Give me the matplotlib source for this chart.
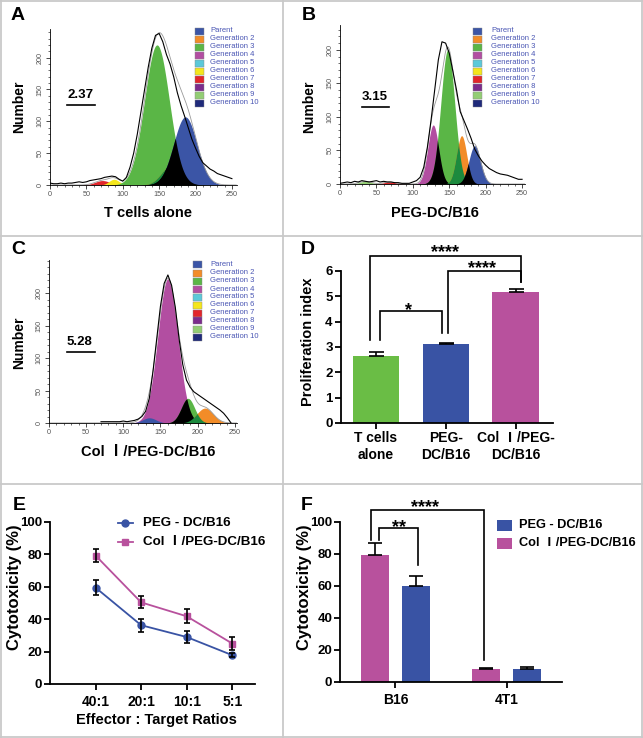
import numpy as np
import matplotlib
matplotlib.use('Agg')
import matplotlib.pyplot as plt
from matplotlib.patches import Rectangle
from matplotlib.lines import Line2D
import matplotlib.transforms as mtrans

# ---------------- data ----------------
gen_names = ['Parent', 'Generation 2', 'Generation 3', 'Generation 4', 'Generation 5',
             'Generation 6', 'Generation 7', 'Generation 8', 'Generation 9', 'Generation 10']
gen_colors = ['#3b55a6', '#f28c28', '#5ab646', '#b24ea1', '#5cc9d9',
              '#f4e61c', '#e2262b', '#7b2c8c', '#93cd74', '#1f2a7a']

hist_x = list(range(0, 255, 5))

# A: T cells alone (raw histogram read at 5-channel steps)
A_counts = [3, 2, 2, 3, 2, 3, 3, 4, 5, 4, 5, 7, 8, 9, 10, 12, 13, 14, 13, 9, 6, 12, 28, 50, 80,
            115, 150, 185, 215, 235, 238, 225, 205, 190, 170, 145, 125, 108, 90, 72, 58, 45,
            35, 30, 25, 22, 18, 16, 14, 12, 10]
A_index = '2.37'
A_title = 'T cells alone'
A_peak_gen = ['Generation 7', 'Generation 6', 'Generation 3', 'Generation 2', 'Parent']
A_peak_center = [72, 88, 147, 166, 186]
A_peak_height = [7, 9, 220, 30, 107]
A_peak_sigma = [10, 7, 17, 13, 16]

# B: PEG-DC/B16
B_counts = [1, 2, 3, 2, 4, 3, 5, 4, 3, 4, 5, 3, 4, 3, 3, 2, 2, 1, 1, 1, 3, 5, 10, 25, 55,
            95, 140, 185, 212, 210, 195, 168, 140, 108, 95, 82, 68, 52, 42, 34, 28, 23,
            20, 17, 15, 14, 13, 11, 9, 7, 7]
B_index = '3.15'
B_title = 'PEG-DC/B16'
B_peak_gen = ['Generation 9', 'Generation 7', 'Generation 4', 'Generation 3', 'Generation 2', 'Parent']
B_peak_center = [35, 68, 128, 148, 167, 185]
B_peak_height = [4, 3, 88, 200, 72, 57]
B_peak_sigma = [8, 8, 7.5, 9.5, 7, 8]

# C: Col I/PEG-DC/B16
nan = float('nan')
C_counts = [nan] * 14 + [2, 2, 2, 2, 2, 2, 3, 2, 3, 4, 6, 10, 18, 38, 80, 130, 180, 215, 228,
                         212, 178, 130, 90, 66, 55, 48, 44, 40, 36, 32, 28, 24, 20, 15, 8, 0, nan]
C_index = '5.28'
C_title = 'Col Ⅰ/PEG-DC/B16'
C_peak_gen = ['Generation 4', 'Generation 3', 'Generation 2', 'Parent']
C_peak_center = [160, 187, 210, 135]
C_peak_height = [222, 38, 23, 8]
C_peak_sigma = [13.5, 9, 11, 9]

# D: proliferation index
D_groups = ['T cells\nalone', 'PEG-\nDC/B16', 'Col Ⅰ/PEG-\nDC/B16']
D_values = [2.65, 3.12, 5.18]
D_errors = [0.16, 0.04, 0.12]

# E: cytotoxicity vs E:T ratio
E_ratios = ['40:1', '20:1', '10:1', '5:1']
E_peg = [59.5, 36.3, 29.0, 17.8]
E_peg_err = [4.4, 3.9, 3.8, 1.2]
E_col = [79.3, 50.4, 41.8, 25.0]
E_col_err = [4.2, 3.7, 4.3, 4.1]

# F: cytotoxicity by target cell
F_cells = ['B16', '4T1']
F_col = [79.5, 7.9]
F_col_err = [7.2, 1.0]
F_peg = [59.8, 8.1]
F_peg_err = [6.6, 1.4]

series_names = ['PEG - DC/B16', 'Col Ⅰ/PEG-DC/B16']

# ---------------- styling ----------------
MAIN = ['Liberation Sans', 'Noto Sans CJK SC', 'DejaVu Sans']
plt.rcParams['font.family'] = MAIN

BLUE = '#3953a4'
MAG = '#b8519d'
GREEN = '#6abd45'
DKGREEN = '#1c8a3e'

W, H = 643, 738
fig = plt.figure(figsize=(W / 100, H / 100), dpi=100)


def rect(l, t, r, b):
    return [l / W, 1 - b / H, (r - l) / W, (b - t) / H]


def fx(x):
    return x / W


def fy(y):
    return 1 - y / H


gcol = dict(zip(gen_names, gen_colors))

# separators / border
for (x1, y1, x2, y2) in [(283, 0, 283, 738), (0, 236, 643, 236), (0, 484, 643, 484),
                         (0, 0.8, 643, 0.8), (0, 737.2, 643, 737.2), (0.8, 0, 0.8, 738), (642.2, 0, 642.2, 738)]:
    fig.add_artist(Line2D([fx(x1), fx(x2)], [fy(y1), fy(y2)], transform=fig.transFigure,
                          color='#c9c9c9', lw=1.3))


def draw_hist(r, xmax, ymax, counts, pgen, pc, ph, ps, overlaps):
    ax = fig.add_axes(r)
    xs = np.linspace(0, 256, 1025)
    curves = {}
    total = np.zeros_like(xs)
    for g, c, h, s in zip(pgen, pc, ph, ps):
        y = h * np.exp(-0.5 * ((xs - c) / s) ** 2)
        curves[g] = y
        total += y
        ax.fill_between(xs, 0, y, color=gcol[g], lw=0)
    for a, b, col in overlaps:
        ax.fill_between(xs, 0, np.minimum(curves[a], curves[b]), color=col, lw=0)
    ax.plot(xs, total, color='#9a9a9a', lw=0.6)
    ax.plot(hist_x, counts, color='k', lw=0.8)
    ax.set_xlim(0, xmax)
    ax.set_ylim(0, ymax)
    for s in ['top', 'right']:
        ax.spines[s].set_visible(False)
    for s in ['left', 'bottom']:
        ax.spines[s].set_linewidth(0.6)
    ax.set_xticks([0, 50, 100, 150, 200, 250])
    ax.set_xticks(np.arange(0, 251, 10), minor=True)
    ax.set_yticks([0, 50, 100, 150, 200])
    ax.set_yticks(np.arange(0, ymax, 10), minor=True)
    ax.tick_params(which='major', length=3, width=0.5, labelsize=5.2, labelcolor='#555', pad=1.5)
    ax.tick_params(which='minor', length=1.5, width=0.4)
    for lab in ax.get_yticklabels():
        lab.set_rotation(90)
        lab.set_va('center')
    return ax


def hist_legend(sx, tx, y0):
    for i, (n, c) in enumerate(zip(gen_names, gen_colors)):
        y = y0 + i * 8
        fig.add_artist(Rectangle((fx(sx), fy(y + 3.5)), 9 / W, 7 / H, transform=fig.transFigure,
                                 facecolor=c, edgecolor='#8a8a8a', lw=0.3))
        fig.text(fx(tx), fy(y), n, fontsize=5.5, color='#4a56b4', va='center', ha='left')


def panel_letter(x, y, s):
    fig.text(fx(x), fy(y), s, fontsize=14, fontweight='bold', ha='center', va='center')


def index_label(x, y, s, ux1, ux2, uy):
    fig.text(fx(x), fy(y), s, fontsize=9.5, fontweight='bold', ha='center', va='center')
    fig.add_artist(Line2D([fx(ux1), fx(ux2)], [fy(uy), fy(uy)], transform=fig.transFigure, color='k', lw=1.2))


# ---- A ----
draw_hist(rect(50, 29, 237, 185), 257, 245, A_counts, A_peak_gen, A_peak_center, A_peak_height, A_peak_sigma,
          [('Generation 2', 'Generation 3', DKGREEN), ('Generation 3', 'Parent', 'k'), ('Generation 2', 'Parent', 'k')])
hist_legend(195, 210, 31)
panel_letter(18, 15, 'A')
fig.text(fx(19), fy(107), 'Number', rotation=90, fontsize=10, fontweight='bold', ha='center', va='center')
fig.text(fx(148), fy(213), A_title, fontsize=10.5, fontweight='bold', ha='center', va='center')
index_label(81, 95, A_index, 67, 95, 105)

# ---- B ----
draw_hist(rect(340, 25, 525, 184), 254, 237, B_counts, B_peak_gen, B_peak_center, B_peak_height, B_peak_sigma,
          [('Generation 4', 'Generation 3', 'k'), ('Generation 3', 'Generation 2', DKGREEN), ('Generation 2', 'Parent', 'k')])
hist_legend(473, 491, 31)
panel_letter(309, 15, 'B')
fig.text(fx(309), fy(107), 'Number', rotation=90, fontsize=10, fontweight='bold', ha='center', va='center')
fig.text(fx(435), fy(213), B_title, fontsize=10.5, fontweight='bold', ha='center', va='center')
index_label(375, 97, B_index, 362, 389, 107)

# ---- C ----
draw_hist(rect(49, 260, 237, 423), 253, 251, C_counts, C_peak_gen, C_peak_center, C_peak_height, C_peak_sigma,
          [('Generation 4', 'Generation 3', 'k'), ('Generation 3', 'Generation 2', DKGREEN)])
hist_legend(193, 210, 265)
panel_letter(18, 250, 'C')
fig.text(fx(19), fy(343), 'Number', rotation=90, fontsize=10, fontweight='bold', ha='center', va='center')
fig.text(fx(148), fy(452), C_title, fontsize=10.5, fontweight='bold', ha='center', va='center')
index_label(79, 342, C_index, 67, 95, 352)

# ---- D ----
axD = fig.add_axes(rect(341, 271, 553, 423))
xD = np.arange(len(D_values))
axD.bar(xD, D_values, width=0.67, color=[GREEN, BLUE, MAG], edgecolor='none')
axD.errorbar(xD, D_values, yerr=[np.zeros(len(D_values)), D_errors], fmt='none', ecolor='k',
             elinewidth=1.2, capsize=5.4, capthick=1.2)
axD.set_xlim(-0.5, 2.53)
axD.set_ylim(0, 6)
axD.set_yticks(range(0, 7))
axD.set_xticks(xD)
axD.set_xticklabels(D_groups, fontsize=10, fontweight='bold', linespacing=1.2)
for lab in axD.get_yticklabels():
    lab.set_fontweight('bold')
    lab.set_fontsize(9.5)
for s in ['top', 'right']:
    axD.spines[s].set_visible(False)
for s in ['left', 'bottom']:
    axD.spines[s].set_linewidth(1.3)
axD.tick_params(length=4, width=1.3, pad=2)
fig.text(fx(308), fy(342), 'Proliferation index', rotation=90, fontsize=10.5, fontweight='bold',
         ha='center', va='center')
panel_letter(308, 250, 'D')


def bracket(ax, x1, x2, y, y1, y2, lw=1.2):
    ax.plot([x1, x1, x2, x2], [y1, y, y, y2], color='k', lw=lw, clip_on=False, solid_joinstyle='miter')


def stars(ax, x, y, s, size=13):
    tr = mtrans.offset_copy(ax.transData, fig=fig, y=-7.6, units='points')
    ax.text(x, y, s, transform=tr, ha='center', va='baseline', fontsize=size, fontweight='bold',
            clip_on=False)


bracket(axD, -0.09, 2.07, 6.6, 3.28, 5.58)
bracket(axD, 1.03, 2.07, 6.0, 3.55, 5.58)
bracket(axD, 0.06, 0.94, 4.43, 3.28, 3.55)
stars(axD, 0.99, 6.95, '****')
stars(axD, 1.51, 6.32, '****')
stars(axD, 0.47, 4.66, '*')

# ---- E ----
TICK_E = 9.5
XT_E = 10
axE = fig.add_axes(rect(50, 522, 255, 684))
xE = np.arange(len(E_ratios))
axE.plot(xE, E_peg, color=BLUE, marker='o', ms=5, lw=1.3, zorder=2)
axE.plot(xE, E_col, color=MAG, marker='s', ms=5, lw=1.3, zorder=2)
axE.errorbar(xE, E_peg, yerr=E_peg_err, fmt='none', ecolor='k', elinewidth=1.2, capsize=2.5, capthick=1.2, zorder=3)
axE.errorbar(xE, E_col, yerr=E_col_err, fmt='none', ecolor='k', elinewidth=1.2, capsize=2.5, capthick=1.2, zorder=3)
axE.set_xlim(-1, 3.5)
axE.set_ylim(0, 100)
axE.set_yticks([0, 20, 40, 60, 80, 100])
axE.set_xticks(xE)
axE.set_xticklabels(E_ratios)
for lab in axE.get_xticklabels():
    lab.set_fontweight('bold')
    lab.set_fontsize(XT_E)
for lab in axE.get_yticklabels():
    lab.set_fontweight('bold')
    lab.set_fontsize(TICK_E)
for s in ['top', 'right']:
    axE.spines[s].set_visible(False)
for s in ['left', 'bottom']:
    axE.spines[s].set_linewidth(1.3)
axE.tick_params(length=4, width=1.3, pad=1.5)
axE.tick_params(axis='x', pad=4)
fig.text(fx(156), fy(720), 'Effector : Target Ratios', fontsize=10.5, fontweight='bold',
         ha='center', va='center')
fig.text(fx(15), fy(587), 'Cytotoxicity (%)', rotation=90, fontsize=12, fontweight='bold',
         ha='center', va='center')
panel_letter(19, 505, 'E')
for i, (name, col, mk) in enumerate(zip(series_names, [BLUE, MAG], ['o', 's'])):
    yy = 523 + i * 19
    fig.add_artist(Line2D([fx(118), fx(125.5), fx(133)], [fy(yy)] * 3, transform=fig.transFigure,
                          color=col, lw=1.3, marker=mk, ms=5, markevery=[1]))
    fig.text(fx(143), fy(yy), name, fontsize=9.6, fontweight='bold', ha='left', va='center')

# ---- F ----
axF = fig.add_axes(rect(340, 522, 562, 682))
xF = np.arange(len(F_cells))
off, bw = 0.185, 0.25
axF.bar(xF - off, F_col, width=bw, color=MAG, edgecolor='none')
axF.bar(xF + off, F_peg, width=bw, color=BLUE, edgecolor='none')
axF.errorbar(xF - off, F_col, yerr=[np.zeros(2), F_col_err], fmt='none', ecolor='k', elinewidth=1.2,
             capsize=5, capthick=1.2)
axF.errorbar(xF + off, F_peg, yerr=[np.zeros(2), F_peg_err], fmt='none', ecolor='k', elinewidth=1.2,
             capsize=5, capthick=1.2)
axF.set_xlim(-0.5, 1.5)
axF.set_ylim(0, 100)
axF.set_yticks([0, 20, 40, 60, 80, 100])
axF.set_xticks(xF)
axF.set_xticklabels(F_cells)
for lab in axF.get_xticklabels():
    lab.set_fontweight('bold')
    lab.set_fontsize(XT_E)
for lab in axF.get_yticklabels():
    lab.set_fontweight('bold')
    lab.set_fontsize(TICK_E)
for s in ['top', 'right']:
    axF.spines[s].set_visible(False)
for s in ['left', 'bottom']:
    axF.spines[s].set_linewidth(1.3)
axF.tick_params(length=4, width=1.3, pad=1.5)
axF.tick_params(axis='x', pad=4)
fig.text(fx(304), fy(587), 'Cytotoxicity (%)', rotation=90, fontsize=12, fontweight='bold',
         ha='center', va='center')
panel_letter(307, 505, 'F')
bracket(axF, -0.22, 0.80, 107.5, 88.7, 13.75)
bracket(axF, -0.15, 0.20, 96.25, 88.7, 73.0)
stars(axF, 0.27, 112.5, '****')
stars(axF, 0.03, 100.5, '**')
for i, (name, col) in enumerate(zip(series_names, [BLUE, MAG])):
    yy = 525 + i * 18
    fig.add_artist(Rectangle((fx(497), fy(yy + 5.5)), 15 / W, 11 / H, transform=fig.transFigure,
                             facecolor=col, edgecolor='none'))
    fig.text(fx(519), fy(yy), name, fontsize=9.2, fontweight='bold', ha='left', va='center')

fig.savefig('out.png', dpi=100)
